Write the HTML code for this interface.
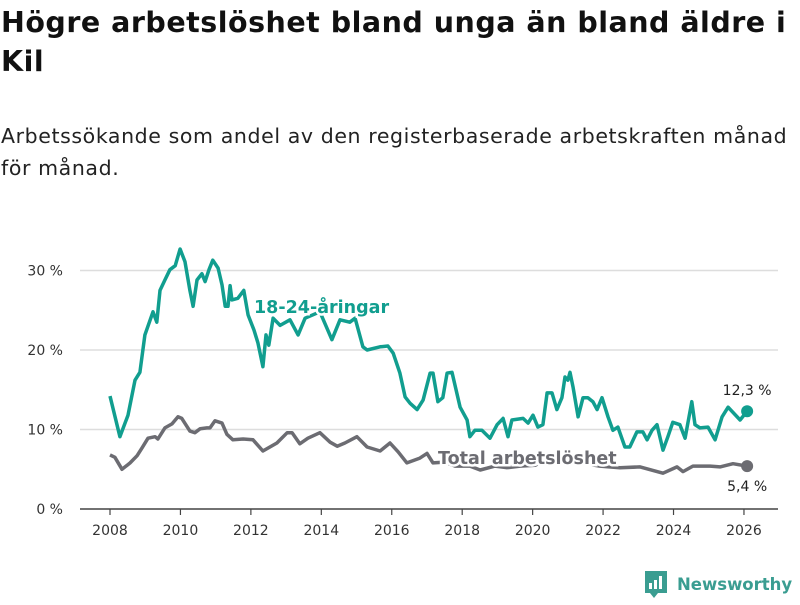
<!DOCTYPE html>
<html><head><meta charset="utf-8"><style>
body{margin:0;background:#fff;font-family:"DejaVu Sans",sans-serif;}
#wrap{position:relative;width:800px;height:600px;overflow:hidden;}
h1{position:absolute;left:1px;top:3px;margin:0;font-size:28.5px;line-height:39px;font-weight:bold;color:#111;width:800px;white-space:nowrap;letter-spacing:0.5px;}
.sub{position:absolute;left:1px;top:120px;margin:0;font-size:20.5px;line-height:32px;color:#222;white-space:nowrap;letter-spacing:0.6px;}
svg{position:absolute;left:0;top:0;}
</style></head><body>
<div id="wrap">
<h1>Högre arbetslöshet bland unga än bland äldre i<br>Kil</h1>
<p class="sub">Arbetssökande som andel av den registerbaserade arbetskraften månad<br>för månad.</p>
<svg id="chart" width="800" height="600"></svg>
</div>
<script>
const yTicks=[0,10,20,30];
const yTickLabels=["0 %","10 %","20 %","30 %"];
const xTicks=[2008,2010,2012,2014,2016,2018,2020,2022,2024,2026];
const youthYears=[2008.00,2008.28,2008.51,2008.71,2008.85,2008.99,2009.14,2009.22,2009.33,2009.42,2009.56,2009.70,2009.85,2009.99,2010.13,2010.27,2010.36,2010.47,2010.61,2010.70,2010.81,2010.92,2011.07,2011.18,2011.27,2011.35,2011.41,2011.46,2011.63,2011.80,2011.92,2012.09,2012.20,2012.34,2012.43,2012.51,2012.63,2012.83,2013.11,2013.34,2013.54,2013.96,2014.30,2014.53,2014.81,2014.96,2015.18,2015.30,2015.67,2015.89,2016.04,2016.23,2016.38,2016.52,2016.72,2016.89,2017.09,2017.17,2017.31,2017.45,2017.57,2017.71,2017.94,2018.14,2018.22,2018.36,2018.56,2018.79,2018.99,2019.16,2019.30,2019.41,2019.73,2019.87,2020.01,2020.15,2020.29,2020.41,2020.55,2020.69,2020.83,2020.92,2021.00,2021.06,2021.15,2021.29,2021.43,2021.57,2021.71,2021.83,2021.97,2022.14,2022.28,2022.42,2022.62,2022.76,2022.96,2023.13,2023.25,2023.39,2023.53,2023.70,2023.84,2023.98,2024.18,2024.33,2024.52,2024.61,2024.75,2024.98,2025.18,2025.38,2025.55,2025.89,2026.09];
const youthValues=[14.2,9.1,11.8,16.2,17.2,21.9,23.8,24.8,23.5,27.5,28.8,30.1,30.6,32.7,31.1,27.5,25.5,28.8,29.6,28.6,30.1,31.3,30.3,28.2,25.5,25.5,28.1,26.3,26.5,27.5,24.4,22.5,20.9,17.9,21.9,20.6,24.0,23.1,23.8,21.9,24.0,24.8,21.3,23.8,23.5,24.0,20.4,20.0,20.4,20.5,19.6,17.1,14.1,13.3,12.5,13.7,17.1,17.1,13.5,14.0,17.1,17.2,12.8,11.2,9.1,9.9,9.9,8.9,10.6,11.4,9.1,11.2,11.4,10.8,11.8,10.3,10.6,14.6,14.6,12.5,14.0,16.6,16.2,17.2,15.3,11.6,14.0,14.0,13.5,12.5,14.0,11.6,9.9,10.3,7.8,7.8,9.7,9.7,8.7,9.9,10.6,7.4,9.1,10.9,10.6,8.9,13.5,10.6,10.2,10.3,8.7,11.6,12.8,11.2,12.3];
const totalYears=[2008.00,2008.14,2008.34,2008.57,2008.77,2008.91,2009.08,2009.28,2009.36,2009.56,2009.76,2009.93,2010.04,2010.27,2010.41,2010.56,2010.75,2010.84,2010.98,2011.18,2011.32,2011.49,2011.78,2012.06,2012.34,2012.54,2012.74,2013.03,2013.17,2013.39,2013.62,2013.96,2014.25,2014.45,2014.67,2015.01,2015.30,2015.67,2015.95,2016.18,2016.43,2016.80,2017.00,2017.17,2017.51,2017.80,2018.22,2018.51,2018.93,2019.27,2019.64,2020.07,2020.44,2020.78,2021.12,2021.49,2021.91,2022.48,2023.05,2023.70,2024.10,2024.27,2024.55,2025.04,2025.32,2025.69,2026.09];
const totalValues=[6.8,6.5,5.0,5.8,6.7,7.7,8.9,9.1,8.8,10.2,10.7,11.6,11.4,9.8,9.6,10.1,10.2,10.2,11.1,10.8,9.4,8.7,8.8,8.7,7.3,7.8,8.3,9.6,9.6,8.2,8.9,9.6,8.4,7.9,8.3,9.1,7.8,7.3,8.3,7.2,5.8,6.4,7.0,5.8,5.9,5.4,5.4,4.9,5.4,5.2,5.4,5.5,6.4,6.5,6.2,5.7,5.4,5.2,5.3,4.5,5.3,4.7,5.4,5.4,5.3,5.7,5.4];
const youthLabel="12,3 %", totalLabel="5,4 %";

const NS="http://www.w3.org/2000/svg";
const svg=document.getElementById('chart');
const xS=y=>110+(y-2008)*35.22;
const yS=v=>509-v*7.95;
const FF='DejaVu Sans, sans-serif';
function mk(t,a,p){const e=document.createElementNS(NS,t);for(const k in a)e.setAttribute(k,a[k]);(p||svg).appendChild(e);return e;}
yTicks.forEach((t,i)=>{
  const g=mk('line',{x1:80,x2:778,y1:yS(t),y2:yS(t),stroke:t===0?'#444':'#ddd','stroke-width':1.5});
  
  
  const l=mk('text',{x:63,y:yS(t)+5,'text-anchor':'end','font-size':14,fill:'#333','font-family':FF});
  l.textContent=yTickLabels[i];
  
  
});
xTicks.forEach(t=>{
  const tk=mk('line',{x1:xS(t),x2:xS(t),y1:509,y2:515,stroke:'#444','stroke-width':1.2});
  
  
  const l=mk('text',{x:xS(t),y:535,'text-anchor':'middle','font-size':14,fill:'#333','font-family':FF});
  l.textContent=t;
  
  
});
function path(xs,vs){return xs.map((x,i)=>(i?'L':'M')+xS(x).toFixed(1)+','+yS(vs[i]).toFixed(1)).join('');}
const tl=mk('path',{d:path(totalYears,totalValues),fill:'none',stroke:'#6c6c72','stroke-width':3.5,'stroke-linejoin':'round'});


const yl=mk('path',{d:path(youthYears,youthValues),fill:'none',stroke:'#119e8f','stroke-width':3.5,'stroke-linejoin':'round'});


const n1=youthYears.length-1,n2=totalYears.length-1;
const yd=mk('circle',{cx:xS(youthYears[n1]),cy:yS(youthValues[n1]),r:6,fill:'#119e8f'});


const td=mk('circle',{cx:xS(totalYears[n2]),cy:yS(totalValues[n2]),r:6,fill:'#6c6c72'});


const yv=mk('text',{x:xS(youthYears[n1]),y:yS(youthValues[n1])-16,'text-anchor':'middle','font-size':14,fill:'#222','font-family':FF});
yv.textContent=youthLabel;


const tv=mk('text',{x:xS(totalYears[n2]),y:yS(totalValues[n2])+25,'text-anchor':'middle','font-size':14,fill:'#222','font-family':FF});
tv.textContent=totalLabel;


const sl=mk('text',{x:254,y:313,'font-size':17.5,'font-weight':'bold',fill:'#119e8f',stroke:'#fff','stroke-width':5,'paint-order':'stroke','font-family':FF});
sl.textContent='18-24-åringar';


const sl2=mk('text',{x:438,y:464,'font-size':17.5,'font-weight':'bold',fill:'#6c6c72',stroke:'#fff','stroke-width':5,'paint-order':'stroke','font-family':FF});
sl2.textContent='Total arbetslöshet';


</script>
<svg width="170" height="40" style="left:640px;top:565px">
<path d="M5 6h22v22h-9l-4 5-4-5H5z" fill="#3a9d91"/>
<rect x="9" y="18" width="3" height="6" fill="#fff"/><rect x="14" y="15" width="3" height="9" fill="#fff"/><rect x="19" y="11" width="3" height="13" fill="#fff"/>
<text x="37" y="25" font-size="16.5" font-weight="bold" fill="#3a9d91" font-family="DejaVu Sans, sans-serif">Newsworthy</text>
</svg>
</body></html>
